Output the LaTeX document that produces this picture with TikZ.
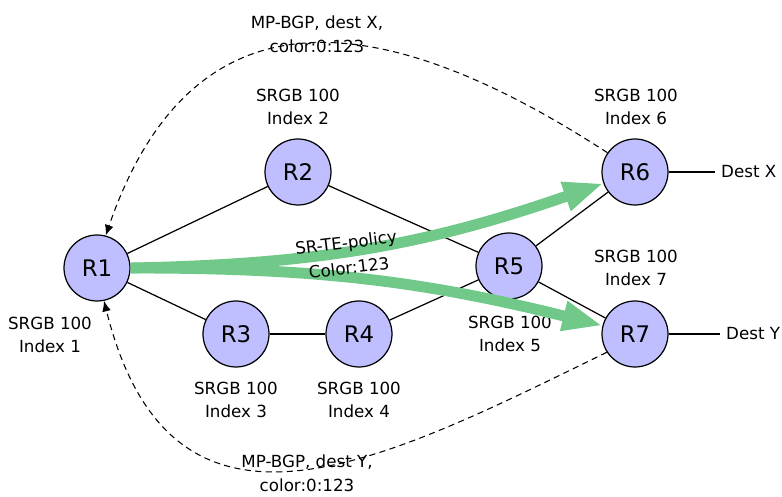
\documentclass[tikz,border=0pt]{standalone}
\usepackage{fontspec}
\setmainfont{DejaVu Sans}
\usetikzlibrary{arrows.meta, positioning}
\tikzset{>={Latex[length=6pt,width=5pt]}}
\definecolor{routerfill}{RGB}{191,191,255}
\definecolor{policygreen}{RGB}{112,201,137}
\tikzset{policyarrow/.style={draw=policygreen, line width=6.2pt, -{Triangle[length=0.8cm,width=0.56cm]}},
         bgpline/.style={->, dashed, dash pattern=on 3.5pt off 2.5pt, line width=0.6pt}}

\begin{document}
\begin{tikzpicture}
    \useasboundingbox (0,0) rectangle (15.64,-9.94);
    \begin{scope}[every node/.style={circle,draw,fill=routerfill,line width=0.7pt,minimum size=1.32cm,inner sep=0pt,font=\fontsize{13}{15}\selectfont}]
      \node (R1) at (1.94,-5.36) {R1};
      \node (R2) at (5.96,-3.44) {R2};
      \node (R3) at (4.72,-6.68) {R3};
      \node (R4) at (7.18,-6.68) {R4};
      \node (R5) at (10.18,-5.32) {R5};
      \node (R6) at (12.70,-3.44) {R6};
      \node (R7) at (12.70,-6.68) {R7};
    \end{scope}
    \begin{scope}[every node/.style={align=center,font=\fontsize{9.5}{13.5}\selectfont}]
      \node (S1) at (1.00,-6.70) {SRGB 100\\Index 1};
      \node (S2) at (5.96,-2.14) {SRGB 100\\Index 2};
      \node (S3) at (4.72,-8.00) {SRGB 100\\Index 3};
      \node (S4) at (7.18,-8.00) {SRGB 100\\Index 4};
      \node (S5) at (10.20,-6.68) {SRGB 100\\Index 5};
      \node (S6) at (12.72,-2.14) {SRGB 100\\Index 6};
      \node (S7) at (12.72,-5.36) {SRGB 100\\Index 7};
      \node (BGPX) at (6.34,-0.68) {MP-BGP, dest X,\\color:0:123};
      \node (BGPY) at (6.14,-9.46) {MP-BGP, dest Y,\\color:0:123};
      \node[anchor=west] (DX) at (14.30,-3.44) {Dest X};
      \node[anchor=west] (DY) at (14.40,-6.68) {Dest Y};
    \end{scope}
    \begin{scope}[every edge/.style={draw=black, line width=0.7pt}]
      \path (R1) edge (R2);
      \path (R1) edge (R3);
      \path (R3) edge (R4);
      \path (R4) edge (R5);
      \path (R2) edge (R5);
      \path (R5) edge (R6);
      \path (R5) edge (R7);
      \path (R6) edge (DX);
      \path (R7) edge (DY);
    \end{scope}
    % BGP advertisements back to R1
    \draw[bgpline] (R6.145) .. controls +(147:5) and +(71:5.6) .. (R1.75);
    \draw[bgpline] (R7.213) .. controls +(206:5) and +(284:5.6) .. (R1.282);
    % SR-TE policy
    \draw[policyarrow] (R1.east) to[bend right=9] (R6);
    \draw[policyarrow] (R1.east) to[bend left=7] (R7);
    \node[align=center, rotate=7, font=\fontsize{9.5}{14.5}\selectfont] (POL) at (6.95,-5.10) {SR-TE-policy\\Color:123};
\end{tikzpicture}
\end{document}
